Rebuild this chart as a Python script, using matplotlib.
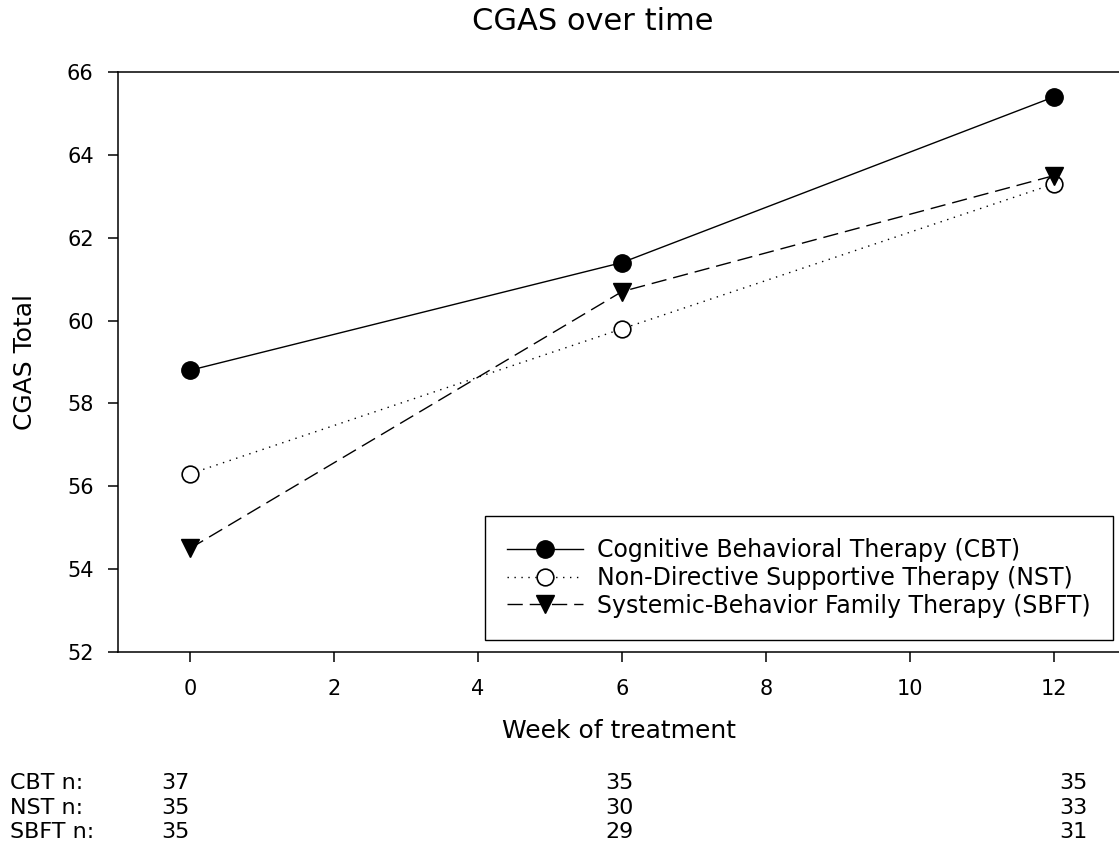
import numpy as np
import matplotlib
matplotlib.use("Agg")
import matplotlib.pyplot as plt
from matplotlib.transforms import blended_transform_factory

# === data ===
weeks = [0, 6, 12]
cbt = [58.8, 61.4, 65.4]
nst = [56.3, 59.8, 63.3]
sbft = [54.5, 60.7, 63.5]

series_labels = ["Cognitive Behavioral Therapy (CBT)",
                 "Non-Directive Supportive Therapy (NST)",
                 "Systemic-Behavior Family Therapy (SBFT)"]

n_row_labels = ["CBT n:", "NST n:", "SBFT n:"]
cbt_n = [37, 35, 35]
nst_n = [35, 30, 33]
sbft_n = [35, 29, 31]

plt.rcParams['font.family'] = ['DejaVu Sans']

W, H = 1119, 849
fig = plt.figure(figsize=(W / 100, H / 100), dpi=100)

# axes: left spine at x=118px, bottom at y=652px, top at y=72px; 72 px per week
left, right = 118, 118 + 14 * 72
bottom, top = 652, 72
ax = fig.add_axes([left / W, 1 - bottom / H, (right - left) / W, (bottom - top) / H])

ax.plot(weeks, cbt, color='black', lw=1.0, ls='-', marker='o', ms=12.5,
        mfc='black', mec='black', label=series_labels[0], clip_on=False)
ax.plot(weeks, nst, color='black', lw=1.0, ls=(0, (1, 4)), marker='o', ms=12,
        mfc='white', mec='black', mew=1.2, label=series_labels[1], clip_on=False)
ax.plot(weeks, sbft, color='black', lw=1.0, ls=(0, (11, 5)), marker='v', ms=12.5,
        mfc='black', mec='black', label=series_labels[2], clip_on=False)

ax.set_xlim(-1, 13)
ax.set_ylim(52, 66)
ax.set_xticks(np.arange(0, 13, 2))
ax.set_yticks(np.arange(52, 67, 2))
ax.spines['right'].set_visible(False)
for s in ['left', 'bottom', 'top']:
    ax.spines[s].set_linewidth(1.1)
ax.tick_params(axis='both', direction='out', length=7.5, width=1.1, labelsize=15)
ax.tick_params(axis='y', pad=10)
ax.tick_params(axis='x', pad=12)

leg = ax.legend(loc='lower right', bbox_to_anchor=(1113 / W, 1 - 640 / H),
                bbox_transform=fig.transFigure, borderaxespad=0,
                fontsize=17, frameon=True, fancybox=False, framealpha=1,
                edgecolor='black', handlelength=3.2, handletextpad=0.6,
                labelspacing=0.15, borderpad=0.95)
leg.get_frame().set_linewidth(1.0)

fig.text(593 / W, 1 - 22 / H, "CGAS over time", fontsize=22, ha='center', va='center')
fig.text(619 / W, 1 - 731 / H, "Week of treatment", fontsize=18, ha='center', va='center')
fig.text(25 / W, 1 - 362 / H, "CGAS Total", fontsize=18, rotation=90,
         ha='center', va='center')

# sample size table under the chart
col_pos = [-0.2, 5.97, 12.27]
row_y = [783, 808, 832]
tr = blended_transform_factory(ax.transData, fig.transFigure)
for lab, vals, yy in zip(n_row_labels, [cbt_n, nst_n, sbft_n], row_y):
    fig.text(10 / W, 1 - yy / H, lab, fontsize=16, ha='left', va='center')
    for xp, v in zip(col_pos, vals):
        ax.text(xp, 1 - yy / H, str(v), transform=tr, fontsize=16,
                ha='center', va='center', clip_on=False)

fig.savefig("out.png", dpi=100)
